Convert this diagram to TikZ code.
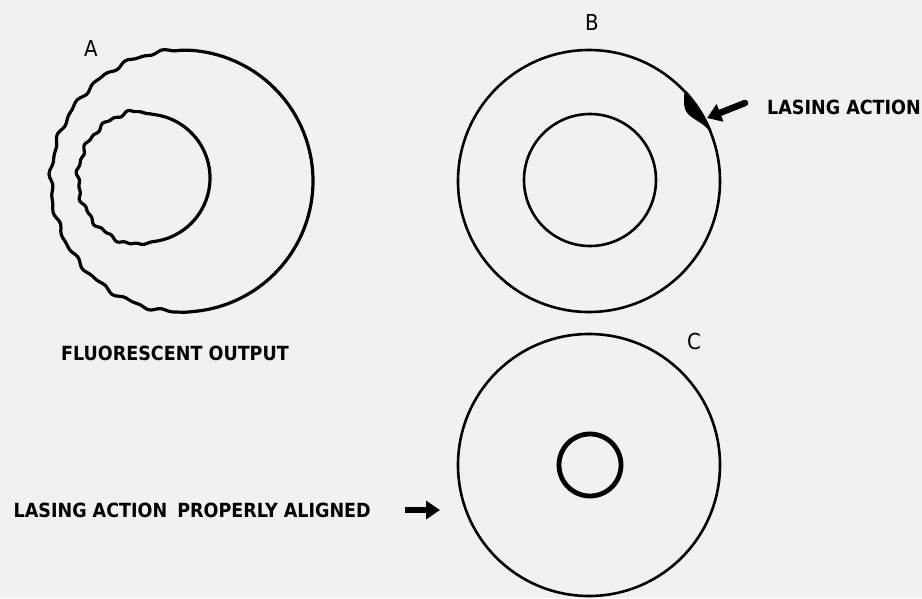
\documentclass[tikz,border=0pt]{standalone}
\usepackage{fontspec}
\newfontfamily\capfont{DejaVu Sans Condensed}
\usetikzlibrary{arrows.meta,positioning}
\definecolor{paper}{RGB}{241,241,240}
\tikzset{declare function={
  wt(\t)=max(0,min(1,3*(0.1-cos(\t))));
  ra(\t)=131+(1.4*sin(23*\t)+0.9*sin(41*\t+30))*wt(\t);
  rb(\t)=64+4*wt(\t)+(1.3*sin(15*\t)+0.9*sin(31*\t+50))*wt(\t);
  rl(\t)=130.5-11*sin(180*((\t-22)/21)^1.45);
}}

\begin{document}
\begin{tikzpicture}[x=1pt,y=-1pt,
  ring/.style={line width=2.6pt},
  wavy/.style={line width=3.2pt,line join=round},
  tag/.style={font=\capfont\fontsize{22}{22}\selectfont,inner sep=0pt},
  caption/.style={font=\capfont\bfseries\fontsize{19.5}{19.5}\selectfont,inner sep=0pt},
  fatarrow/.style={line width=6.5pt,-{Triangle[length=14pt,width=18pt]}}]
\fill[paper] (0,0) rectangle (922,598);
\useasboundingbox (0,0) rectangle (922,598);
% A: fluorescent output
\draw[wavy] plot[smooth,domain=0:360,samples=241,variable=\t]
  ({182+ra(\t)*cos(\t)},{181-ra(\t)*sin(\t)}) -- cycle;
\draw[wavy] plot[smooth,domain=0:360,samples=241,variable=\t]
  ({146+rb(\t)*cos(\t)},{178-rb(\t)*sin(\t)}) -- cycle;
\node[tag] (lA) at (91,48) {A};
\node[caption] (fluor) at (175,353) {FLUORESCENT OUTPUT};
% B: lasing action at the rim
\draw[ring] (589,181) circle[radius=131pt];
\draw[ring] (590,180) circle[radius=66pt];
\fill plot[smooth,domain=22.01:43,variable=\t] ({589+132.5*cos(\t)},{181-132.5*sin(\t)})
  -- plot[smooth,domain=43:22.01,samples=30,variable=\t] ({589+rl(\t)*cos(\t)},{181-rl(\t)*sin(\t)}) -- cycle;
\node[tag] (lB) at (592,22) {B};
\node[caption,anchor=west] (lasing) at (767,107) {LASING ACTION};
\coordinate (btail) at (745,103);
\coordinate (bhead) at (707,118);
\draw[fatarrow,line cap=round] (btail) -- (bhead);
% C: properly aligned
\draw[ring] (589,465) circle[radius=131pt];
\draw[line width=4.8pt] (590,465) circle[radius=31pt];
\node[tag] (lC) at (694,341) {C};
\node[caption,anchor=east] (aligned) at (371,510) {LASING ACTION\hspace{10pt}PROPERLY ALIGNED};
\coordinate (ctail) at (405,510);
\coordinate (chead) at (440,510);
\draw[fatarrow] (ctail) -- (chead);
\end{tikzpicture}
\end{document}
